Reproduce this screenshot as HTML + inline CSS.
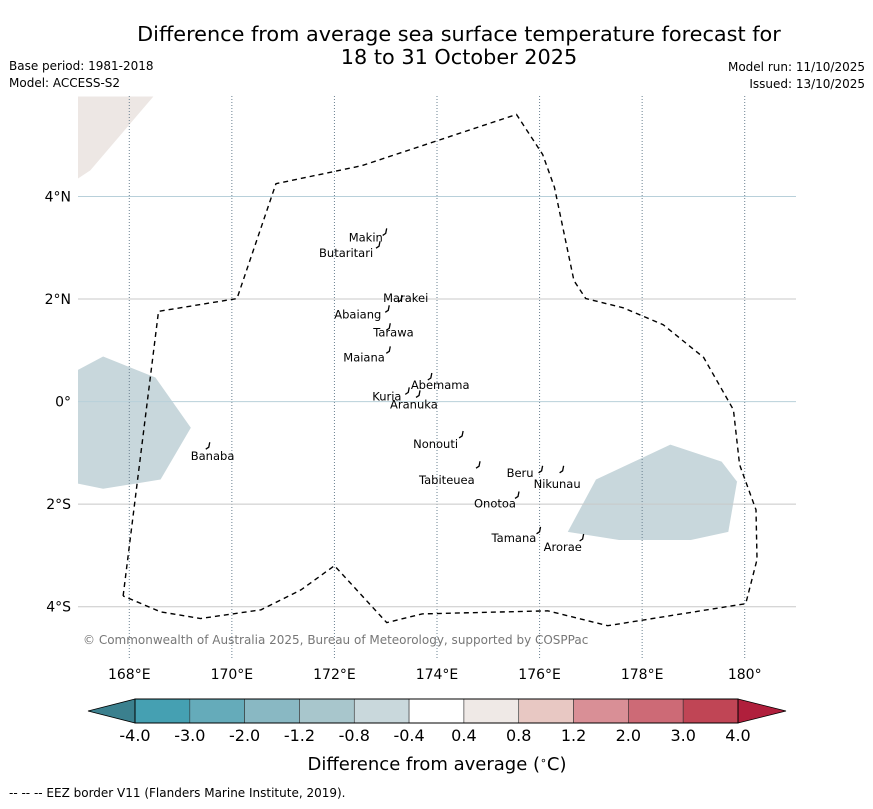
<!DOCTYPE html>
<html><head><meta charset="utf-8"><style>
body{margin:0;background:#fff;}
svg text{font-family:"DejaVu Sans","Liberation Sans",sans-serif;}
</style></head><body>
<svg id="c" width="873" height="804" xmlns="http://www.w3.org/2000/svg">
<text x="459" y="41" font-size="20.8" text-anchor="middle">Difference from average sea surface temperature forecast for</text>
<text x="459" y="64" font-size="20.8" text-anchor="middle">18 to 31 October 2025</text>
<text x="9" y="70" font-size="12">Base period: 1981-2018</text>
<text x="9" y="87" font-size="12">Model: ACCESS-S2</text>
<text x="865" y="71" font-size="12" text-anchor="end">Model run: 11/10/2025</text>
<text x="865" y="88" font-size="12" text-anchor="end">Issued: 13/10/2025</text>
<g id="map"></g>
<text x="83" y="644" font-size="12" fill="#777">© Commonwealth of Australia 2025, Bureau of Meteorology, supported by COSPPac</text>
<g id="cbar"></g>
<text x="437" y="770" font-size="18" text-anchor="middle">Difference from average (<tspan baseline-shift="super" font-size="11">∘</tspan>C)</text>
<text x="9" y="797" font-size="12">--  --  -- EEZ border V11 (Flanders Marine Institute, 2019).</text>
</svg>
<script>
const lonTicks=[168,170,172,174,176,178,180];
const lonLabels=["168°E","170°E","172°E","174°E","176°E","178°E","180°"];
const latTicks=[4,2,0,-2,-4];
const latLabels=["4°N","2°N","0°","2°S","4°S"];
const eezLon=[167.88,168.57,170.10,170.86,172.53,175.55,176.06,176.29,176.67,176.90,177.63,178.41,179.20,179.78,179.90,180.22,180.24,180.02,177.33,176.16,173.71,173.02,172.0,171.35,170.57,169.39,168.61,167.88];
const eezLat=[-3.79,1.76,2.01,4.25,4.60,5.60,4.82,4.18,2.36,2.01,1.83,1.50,0.86,-0.16,-1.23,-2.11,-3.08,-3.94,-4.37,-4.08,-4.14,-4.31,-3.20,-3.67,-4.06,-4.23,-4.10,-3.79];
const westLon=[167,167.49,168.51,169.20,168.61,167.49,167];
const westLat=[0.62,0.88,0.47,-0.51,-1.52,-1.70,-1.60];
const eastLon=[176.55,177.10,178.55,179.55,179.85,179.68,178.95,177.55];
const eastLat=[-2.54,-1.52,-0.84,-1.17,-1.56,-2.54,-2.70,-2.70];
const landLon=[167,168.47,167.24,167];
const landLat=[5.95,5.95,4.51,4.35];
const islandNames=["Makin","Butaritari","Marakei","Abaiang","Tarawa","Maiana","Abemama","Kuria","Aranuka","Nonouti","Banaba","Tabiteuea","Beru","Nikunau","Onotoa","Tamana","Arorae"];
const islandLon=[172.98,172.85,173.28,173.03,173.05,173.05,173.86,173.42,173.63,174.47,169.53,174.80,176.02,176.43,175.56,175.98,176.82];
const islandLat=[3.30,3.05,2.00,1.80,1.45,1.00,0.48,0.20,0.14,-0.65,-0.87,-1.24,-1.33,-1.33,-1.83,-2.52,-2.66];
const labelDx=[-36,-59,-17,-53,-15,-45,-19,-35,-28,-48,-17,-59,-34,-28,-43,-47,-38];
const labelDy=[9,12,3,9,9,11,12,9,14,13,14,19,7,18,12,11,13];
const cbVals=["-4.0","-3.0","-2.0","-1.2","-0.8","-0.4","0.4","0.8","1.2","2.0","3.0","4.0"];
const cbColors=["#45a0b2","#65abba","#89b8c3","#a8c6cc","#c9d8dc","#ffffff","#efe9e6","#e8c8c3","#d98f96","#cd6a76","#c04555"];

const NS="http://www.w3.org/2000/svg";
const L=78,R=796,T=96,B=658,lon0=167,lon1=181,lat0=-5,lat1=5.96;
const x=lo=>L+(lo-lon0)/(lon1-lon0)*(R-L);
const y=la=>T+(lat1-la)/(lat1-lat0)*(B-T);
function mk(tag,attrs,parent){const e=document.createElementNS(NS,tag);for(const k in attrs)e.setAttribute(k,attrs[k]);parent.appendChild(e);return e;}
const map=document.getElementById('map');
function poly(lons,lats,fill,name){const p=mk('polygon',{points:lons.map((v,i)=>x(v)+','+y(lats[i])).join(' '),fill:fill},map);}
poly(landLon,landLat,'#ede7e4','land-area');
poly(westLon,westLat,'#c8d7dc','anomaly-west');
poly(eastLon,eastLat,'#c8d7dc','anomaly-east');
lonTicks.forEach((v,i)=>{
 const l=mk('line',{x1:x(v),x2:x(v),y1:T,y2:B,stroke:'#6a8090','stroke-width':1,'stroke-dasharray':'1,2'},map);
 
 
 const t=mk('text',{x:x(v),y:679,'font-size':14,'text-anchor':'middle'},map);t.textContent=lonLabels[i];
 
 
});
latTicks.forEach((v,i)=>{
 const l=mk('line',{x1:L,x2:R,y1:y(v),y2:y(v),stroke:(v==4||v==0)?'#b8d0da':'#c8c8c8','stroke-width':1},map);
 
 
 const t=mk('text',{x:71,y:y(v)+5,'font-size':14,'text-anchor':'end'},map);t.textContent=latLabels[i];
 
 
});
const e=mk('polyline',{points:eezLon.map((v,i)=>x(v)+','+y(eezLat[i])).join(' '),fill:'none',stroke:'#000','stroke-width':1.4,'stroke-dasharray':'5,4'},map);


islandNames.forEach((n,i)=>{
 const px=x(islandLon[i]),py=y(islandLat[i]);
 const m=mk('path',{d:`M${px-2} ${py+3} l3 -2 l1 -5`,stroke:'#000','stroke-width':1.3,fill:'none'},map);
 
 
 const t=mk('text',{x:px+labelDx[i],y:py+labelDy[i],'font-size':11.5},map);t.textContent=n;
 
 
});
const cb=document.getElementById('cbar');
const cx0=135,cx1=738,cy0=699,cy1=723,w=(cx1-cx0)/cbColors.length;
const la=mk('polygon',{points:`${cx0},${cy0} 88,711 ${cx0},${cy1}`,fill:'#3b808e',stroke:'#000','stroke-width':0.8},cb);


const ra=mk('polygon',{points:`${cx1},${cy0} 786,711 ${cx1},${cy1}`,fill:'#b01f3c',stroke:'#000','stroke-width':0.8},cb);


cbColors.forEach((c,i)=>{
 const r=mk('rect',{x:cx0+i*w,y:cy0,width:w,height:cy1-cy0,fill:c,stroke:'#333','stroke-width':0.6},cb);
 
 
});
mk('rect',{x:cx0,y:cy0,width:cx1-cx0,height:cy1-cy0,fill:'none',stroke:'#000','stroke-width':1},cb);
cbVals.forEach((v,i)=>{
 const t=mk('text',{x:cx0+i*w,y:741,'font-size':16,'text-anchor':'middle'},cb);t.textContent=v;
 
 
});
</script>
</body></html>
